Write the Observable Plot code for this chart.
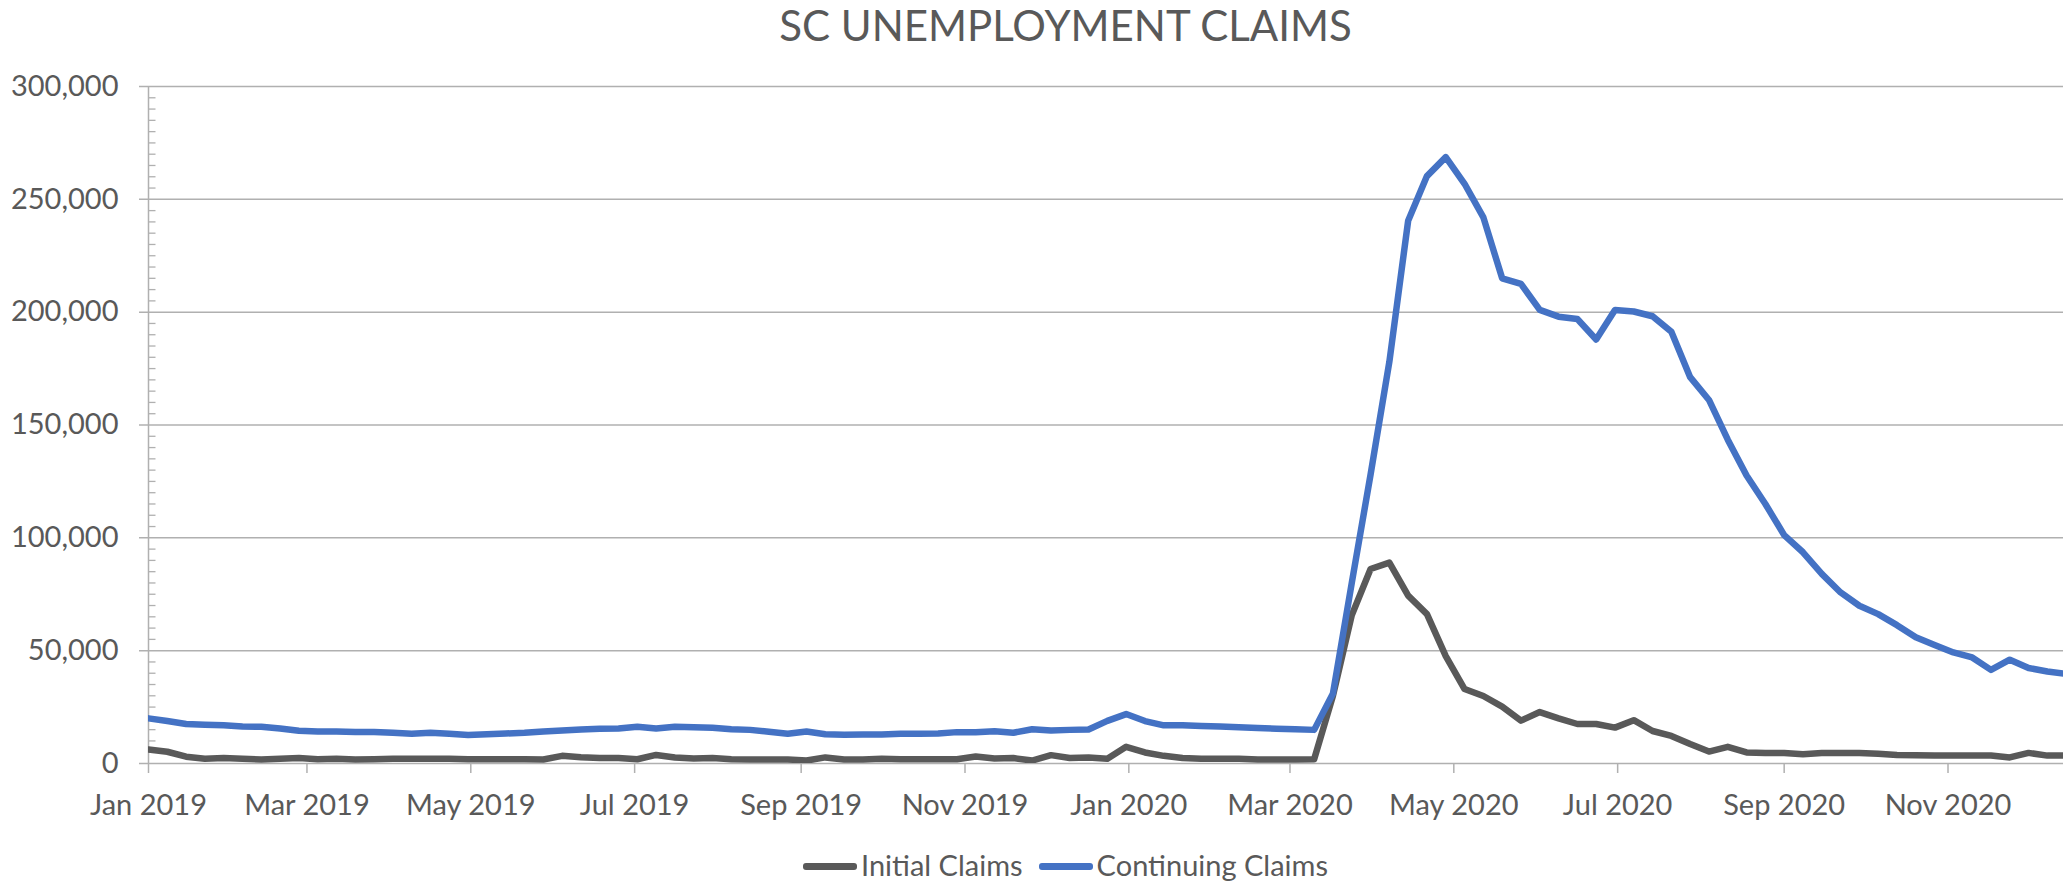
<!DOCTYPE html>
<html>
<head>
<meta charset="utf-8">
<script src="https://cdn.jsdelivr.net/npm/d3@7"></script>
<script src="https://cdn.jsdelivr.net/npm/@observablehq/plot@0.6"></script>
<style>
  html, body { margin: 0; padding: 0; background: #fff; }
  body { width: 2063px; height: 884px; overflow: hidden; font-family: Lato, "Open Sans", sans-serif; color: #595959; }
  #title { height: 56px; line-height: 51px; padding-left: 68px; text-align: center; font-size: 42px; color: #595959; white-space: nowrap; }
  #chart svg { display: block; }
  #legend { height: 44px; line-height: 50px; padding-left: 68px; text-align: center; font-size: 29px; color: #595959; white-space: nowrap; overflow: hidden; }
  .item { display: inline-block; margin: 0 8px; }
  .swatch { display: inline-block; width: 54px; height: 6.5px; border-radius: 3px; vertical-align: middle; position: relative; top: -2px; margin-right: 4px; }
</style>
</head>
<body>
<div id="title">SC UNEMPLOYMENT CLAIMS</div>
<div id="chart"></div>
<div id="legend"></div>
<script>
// ---- data (weekly, week ending Saturday, starting 2019-01-05) ----
const firstWeek = "2019-01-05";
const axisEnd = "2020-12-18";
const seriesNames = ["Initial Claims", "Continuing Claims"];
const seriesColors = ["#595959", "#4472C4"];

const initialClaims = [
  6200, 5200, 3000, 2100, 2400, 2100, 1800, 2100, 2400, 1900,
  2100, 1800, 1900, 2100, 2100, 2100, 2100, 1900, 1900, 1900,
  1900, 1800, 3400, 2800, 2400, 2400, 1900, 3800, 2700, 2200,
  2400, 1900, 1800, 1800, 1800, 1300, 2700, 1800, 1800, 2100,
  1900, 1900, 1900, 1900, 3100, 2200, 2400, 1300, 3700, 2400,
  2700, 2100, 7400, 4900, 3400, 2400, 2100, 2100, 2100, 1800,
  1800, 1800, 1900, 30000, 65700, 86200, 89000, 74400, 66200, 47600,
  33000, 29900, 25200, 19000, 22800, 20000, 17500, 17500, 15900, 19200,
  14400, 12200, 8600, 5300, 7400, 4900, 4600, 4600, 4100, 4600,
  4600, 4600, 4300, 3800, 3700, 3500, 3500, 3500, 3500, 2700,
  4700, 3500, 3500
];

const continuingClaims = [
  20000, 18800, 17500, 17200, 16900, 16400, 16300, 15500, 14500, 14200,
  14200, 14000, 14000, 13600, 13200, 13600, 13200, 12600, 13000, 13300,
  13600, 14200, 14600, 15100, 15400, 15500, 16300, 15500, 16300, 16100,
  15800, 15200, 14900, 14100, 13200, 14200, 13000, 12700, 12900, 12900,
  13200, 13200, 13300, 13900, 13900, 14300, 13600, 15200, 14600, 14900,
  15100, 18900, 21900, 18800, 16900, 16900, 16600, 16400, 16100, 15700,
  15400, 15200, 14900, 31000, 80000, 128000, 178000, 240500, 260300, 268700,
  256900, 242000, 215000, 212500, 201000, 198000, 197000, 187900, 201000, 200300,
  198200, 191300, 171200, 161100, 143500, 127600, 115000, 101200, 93600, 84000,
  75800, 69900, 66200, 61300, 55900, 52500, 49200, 47000, 41500, 46000,
  42300, 40800, 39700
];

const yTicks = [0, 50000, 100000, 150000, 200000, 250000, 300000];
const xTickDates = [
  "2019-01-05", "2019-03-05", "2019-05-05", "2019-07-05", "2019-09-05", "2019-11-05",
  "2020-01-05", "2020-03-05", "2020-05-05", "2020-07-05", "2020-09-05", "2020-11-05"
];

// ---- build table ----
const start = new Date(firstWeek + "T00:00Z");
const end = new Date(axisEnd + "T00:00Z");
const weeks = initialClaims.map((_, i) => d3.utcDay.offset(start, 7 * i));
const rows = [];
[initialClaims, continuingClaims].forEach((vals, s) => {
  vals.forEach((v, i) => rows.push({date: weeks[i], value: v, series: seriesNames[s]}));
});
const xTicks = xTickDates.map(d => new Date(d + "T00:00Z"));
const minorY = d3.range(0, 300001, 5000).filter(v => v % 50000 !== 0);

const grid = "#b0b0b0";

const chart = Plot.plot({
  width: 2063,
  height: 784,
  marginLeft: 148,
  marginRight: 0,
  marginTop: 30,
  marginBottom: 77,
  style: {fontFamily: "Lato, 'Open Sans', sans-serif", fontSize: "29px", background: "#fff", overflow: "visible"},
  x: {type: "utc", domain: [start, end]},
  y: {domain: [0, 300000]},
  color: {domain: seriesNames, range: seriesColors},
  marks: [
    Plot.ruleY(yTicks, {stroke: grid, strokeWidth: 1.5, insetLeft: -9}),
    Plot.ruleY(minorY, {x1: start, x2: start, insetRight: -7.5, stroke: grid, strokeWidth: 1.3}),
    Plot.ruleX([start], {y1: 0, y2: 300000, stroke: grid, strokeWidth: 1.5}),
    Plot.axisX({ticks: xTicks, tickFormat: d3.utcFormat("%b %Y"), tickSize: 10, tickPadding: 21,
                stroke: grid, strokeWidth: 1.5, fill: "#595959", label: null, fontSize: 29}),
    Plot.axisY({ticks: yTicks, tickFormat: d3.format(","), tickSize: 0, tickPadding: 30,
                fill: "#595959", label: null, fontSize: 29}),
    Plot.line(rows, {x: "date", y: "value", z: "series", stroke: "series", strokeWidth: 6.5,
                     strokeLinejoin: "round", strokeLinecap: "round", clip: true})
  ]
});
document.getElementById("chart").appendChild(chart);

// ---- legend ----
const legend = document.getElementById("legend");
seriesNames.forEach((name, i) => {
  const item = document.createElement("span");
  item.className = "item";
  const sw = document.createElement("span");
  sw.className = "swatch";
  sw.style.background = seriesColors[i];
  item.appendChild(sw);
  item.appendChild(document.createTextNode(name));
  legend.appendChild(item);
});
</script>
</body>
</html>
